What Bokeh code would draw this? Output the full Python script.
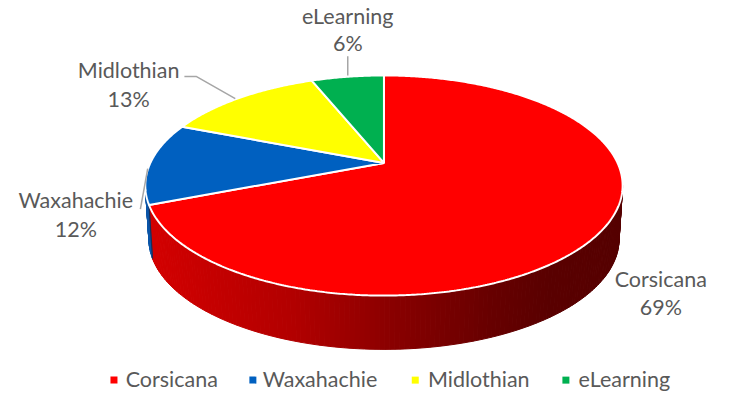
import numpy as np
from bokeh.plotting import figure
from bokeh.models import Range1d, ColumnDataSource
from bokeh.embed import file_html
from bokeh.resources import INLINE
from bokeh.core.properties import value

# ---------------- data ----------------
categories = ["Corsicana", "Waxahachie", "Midlothian", "eLearning"]
shares = [69, 12, 13, 6]
pct_labels = ["69%", "12%", "13%", "6%"]
colors = ["#FF0000", "#0060C0", "#FFFF00", "#00B050"]
side_colors = ["#B00000", "#0A55A8", "#C8C800", "#008C40"]

# ---------------- layout (reference pixel space) ----------------
CX, CY = 392.0, 169.0          # projected centre of the disc
A, B, K = 238.8, 109.7, 0.2052  # perspective projection parameters
T = 56.0                        # thickness of the disc
BOT_SCALE = 0.985
FONT = value("Lato")
FONT_SIZE = "21.5px"
TEXT_COLOR = "#595959"
REF_W, REF_H = 734, 411
W, H = 718, 395
TXT_DY = -8  # compensation for text baseline placement


def proj(alpha_deg):
    a = np.radians(alpha_deg)
    u, v = np.sin(a), np.cos(a)
    w = 1.0 + K * v
    return CX + A * u / w, CY - B * v / w


def proj_bottom(alpha_deg):
    x, y = proj(alpha_deg)
    return CX + (x - CX) * BOT_SCALE, y + T


total = float(sum(shares))
bounds = np.concatenate([[0.0], np.cumsum(shares) / total * 360.0])

p = figure(width=W, height=H, x_range=Range1d(0, REF_W), y_range=Range1d(REF_H, 0),
           output_backend="svg", toolbar_location=None, min_border=0,
           x_axis_type=None, y_axis_type=None)
p.grid.grid_line_color = None
p.outline_line_color = None
p.background_fill_color = "white"
p.border_fill_color = "white"

# ---------------- side of the disc (visible front half) ----------------
a_right = np.degrees(np.arctan2(np.sqrt(1 - K * K), -K))  # ~101.8 deg
a_left = 360.0 - a_right
xs_side, ys_side, fills = [], [], []
grad_x = [150, 300, 400, 500, 560, 640]
grad_r = [212, 178, 138, 104, 90, 86]
steps = np.arange(a_right, a_left, 1.0)
steps = np.append(steps, a_left)
for i in range(len(steps) - 1):
    a0, a1 = steps[i], steps[i + 1]
    am = 0.5 * (a0 + a1)
    idx = int(np.searchsorted(bounds, am, side="right") - 1)
    x0, y0 = proj(a0)
    x1, y1 = proj(a1)
    bx0, by0 = proj_bottom(a0)
    bx1, by1 = proj_bottom(a1)
    xs_side.append([x0, x1, bx1, bx0])
    ys_side.append([y0, y1, by1, by0])
    xm = 0.5 * (x0 + x1)
    if idx == 0:
        r = int(np.interp(xm, grad_x, grad_r))
        fills.append("#%02x0000" % r)
    else:
        fills.append(side_colors[idx])
p.patches(xs=xs_side, ys=ys_side, fill_color=fills, line_color=fills, line_width=1.0)

# boundary line on the side between slices
for b in bounds[1:-1]:
    if a_right < b < a_left:
        x0, y0 = proj(b)
        x1, y1 = proj_bottom(b)
        p.line([x0, x1], [y0, y1], line_color="#1c2c55", line_width=1.2)

# ---------------- top surface slices ----------------
top_xs, top_ys = [], []
for i in range(len(shares)):
    a = np.linspace(bounds[i], bounds[i + 1], max(int(bounds[i + 1] - bounds[i]) * 2, 4))
    x, y = proj(a)
    top_xs.append([CX] + list(x))
    top_ys.append([CY] + list(y))
src = ColumnDataSource(dict(xs=top_xs, ys=top_ys, color=colors, name=categories))
p.patches(xs="xs", ys="ys", fill_color="color", line_color="white", line_width=2, source=src)

# ---------------- data labels ----------------
label_x = [675, 77, 131, 355]
name_y = [298, 216, 80, 24]
pct_y = [327, 246, 110, 52]
p.text(x=label_x, y=[v + TXT_DY for v in name_y], text=categories, text_font=FONT,
       text_font_size=FONT_SIZE, text_color=TEXT_COLOR, text_align="center",
       text_baseline="alphabetic")
p.text(x=label_x, y=[v + TXT_DY for v in pct_y], text=pct_labels, text_font=FONT,
       text_font_size=FONT_SIZE, text_color=TEXT_COLOR, text_align="center",
       text_baseline="alphabetic")

# leader lines
leader_xs = [[143, 150.5], [188, 200, 240], [355, 355]]
leader_ys = [[217, 175], [79, 79, 102], [58, 78]]
p.multi_line(xs=leader_xs, ys=leader_ys, line_color="#A6A6A6", line_width=1.5)

# ---------------- legend ----------------
sq_x = [116, 258, 424, 578]
txt_x = [128, 268, 437, 591]
p.scatter(x=sq_x, y=[395] * 4, marker="square", size=7, fill_color=colors, line_color=None)
p.text(x=txt_x, y=[402 + TXT_DY] * 4, text=categories, text_font=FONT,
       text_font_size=FONT_SIZE, text_color=TEXT_COLOR, text_align="left",
       text_baseline="alphabetic")

open("out.html", "w").write(file_html(p, INLINE))
